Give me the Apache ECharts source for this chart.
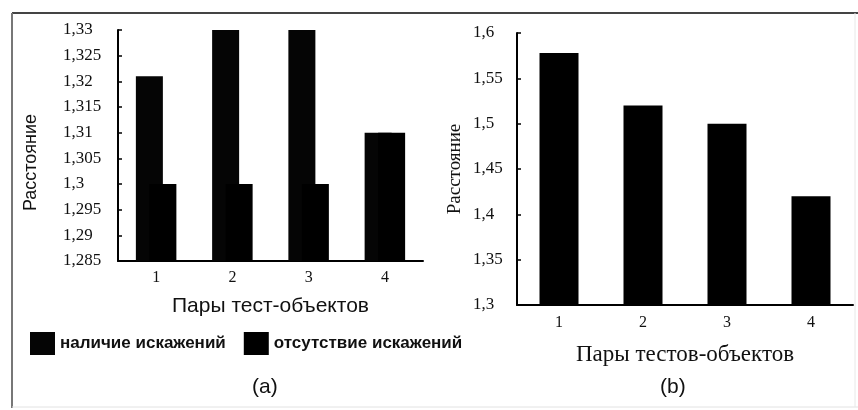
<!DOCTYPE html>
<html>
<head>
<meta charset="utf-8">
<script src="https://cdn.jsdelivr.net/npm/echarts@6/dist/echarts.min.js"></script>
<style>
html,body{margin:0;padding:0;background:#fff;}
#chart{width:858px;height:410px;}
</style>
</head>
<body>
<div id="chart"></div>
<script>
// ---- data ----
var categoriesA = ['1', '2', '3', '4'];
var distortedA = [1.321, 1.33, 1.33, 1.31];      // наличие искажений
var undistortedA = [1.3, 1.3, 1.3, 1.31];        // отсутствие искажений
var categoriesB = ['1', '2', '3', '4'];
var valuesB = [1.578, 1.52, 1.5, 1.42];
var seriesNamesA = ['наличие искажений', 'отсутствие искажений'];
var yNameA = 'Расстояние';
var yNameB = 'Расстояние';
var xNameA = 'Пары тест-объектов';
var xNameB = 'Пары тестов-объектов';

function fmt(v) {
  return String(parseFloat(v.toFixed(3))).replace('.', ',');
}

var serif = '"Liberation Serif", "DejaVu Serif", serif';
var sans = '"Liberation Sans", "DejaVu Sans", sans-serif';

var chart = echarts.init(document.getElementById('chart'));
var axisLineStyle = {color: '#000', width: 2};

chart.setOption({
  animation: false,
  backgroundColor: '#fff',
  title: [
    {text: '(a)', left: 247, top: 372, textStyle: {fontFamily: sans, fontSize: 21, fontWeight: 'normal', color: '#111'}},
    {text: '(b)', left: 655, top: 372, textStyle: {fontFamily: sans, fontSize: 21, fontWeight: 'normal', color: '#111'}}
  ],
  legend: {
    left: 25, top: 327,
    itemWidth: 25, itemHeight: 23, itemGap: 18,
    icon: 'rect',
    data: seriesNamesA,
    textStyle: {fontFamily: sans, fontSize: 17, fontWeight: 'bold', color: '#111'}
  },
  grid: [
    {left: 118, top: 30, right: 435, bottom: 149},
    {left: 517, top: 33, right: 5, bottom: 105}
  ],
  xAxis: [
    {
      gridIndex: 0, type: 'category', data: categoriesA,
      name: xNameA, nameLocation: 'middle', nameGap: 35,
      nameTextStyle: {fontFamily: sans, fontSize: 21, color: '#111'},
      axisLine: {lineStyle: axisLineStyle},
      axisTick: {length: 4, lineStyle: {color: '#000', width: 2}},
      axisLabel: {fontFamily: serif, fontSize: 16, color: '#111', margin: 9}
    },
    {
      gridIndex: 1, type: 'category', data: categoriesB,
      name: xNameB, nameLocation: 'middle', nameGap: 38,
      nameTextStyle: {fontFamily: serif, fontSize: 23, color: '#111'},
      axisLine: {lineStyle: axisLineStyle},
      axisTick: {length: 4, lineStyle: {color: '#000', width: 2}},
      axisLabel: {fontFamily: serif, fontSize: 16, color: '#111', margin: 10}
    }
  ],
  yAxis: [
    {
      gridIndex: 0, type: 'value', min: 1.285, max: 1.33, interval: 0.005,
      name: yNameA, nameLocation: 'middle', nameGap: 78,
      nameTextStyle: {fontFamily: sans, fontSize: 18, color: '#111', padding: [0, 34, 0, 0]},
      axisLine: {show: true, lineStyle: axisLineStyle},
      axisTick: {show: true, inside: true, length: 4, lineStyle: {color: '#000', width: 1.5}},
      splitLine: {show: false},
      axisLabel: {fontFamily: serif, fontSize: 17, color: '#111', align: 'left', margin: 55, formatter: fmt}
    },
    {
      gridIndex: 1, type: 'value', min: 1.3, max: 1.6, interval: 0.05,
      name: yNameB, nameLocation: 'middle', nameGap: 52,
      nameTextStyle: {fontFamily: serif, fontSize: 19, color: '#111'},
      axisLine: {show: true, lineStyle: axisLineStyle},
      axisTick: {show: true, inside: true, length: 4, lineStyle: {color: '#000', width: 1.5}},
      splitLine: {show: false},
      axisLabel: {fontFamily: serif, fontSize: 17, color: '#111', align: 'left', margin: 44, formatter: fmt}
    }
  ],
  series: [
    {
      name: seriesNamesA[0], type: 'bar', xAxisIndex: 0, yAxisIndex: 0,
      data: distortedA, barWidth: 27, barGap: '-50%',
      itemStyle: {color: '#050505'}
    },
    {
      name: seriesNamesA[1], type: 'bar', xAxisIndex: 0, yAxisIndex: 0,
      data: undistortedA, barWidth: 27, barGap: '-50%',
      itemStyle: {color: '#000'}
    },
    {
      name: 'B', type: 'bar', xAxisIndex: 1, yAxisIndex: 1,
      data: valuesB, barWidth: 39,
      itemStyle: {color: '#000'}
    }
  ],
  graphic: [
    {type: 'line', shape: {x1: 12, y1: 13, x2: 858, y2: 13}, style: {stroke: '#444', lineWidth: 2}, silent: true},
    {type: 'line', shape: {x1: 12, y1: 13, x2: 12, y2: 408}, style: {stroke: '#777', lineWidth: 2}, silent: true},
    {type: 'line', shape: {x1: 12, y1: 407, x2: 858, y2: 407}, style: {stroke: '#e2e2e2', lineWidth: 1}, silent: true},
    {type: 'line', shape: {x1: 855, y1: 13, x2: 855, y2: 407}, style: {stroke: '#e8e8e8', lineWidth: 1}, silent: true}
  ]
});
</script>
</body>
</html>
